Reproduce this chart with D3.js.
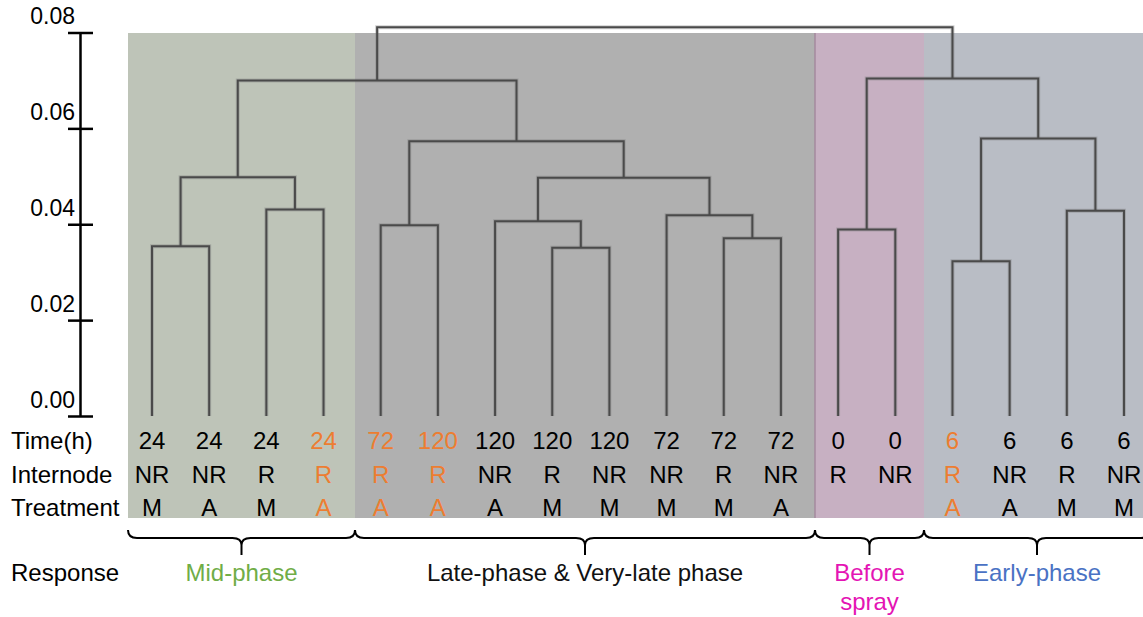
<!DOCTYPE html>
<meta charset="utf-8">
<style>
  body { margin: 0; background: #fff; }
  svg text { font-family: Arial, "Liberation Sans", sans-serif; font-size: 24px; }
</style>
<body>
<script src="https://cdn.jsdelivr.net/npm/d3@7/dist/d3.min.js"></script>
<script>
var width = 1143, height = 617;

// sample labels, left to right
var times = ["24","24","24","24","72","120","120","120","120","72","72","72","0","0","6","6","6","6"];
var internodes = ["NR","NR","R","R","R","R","NR","R","NR","NR","R","NR","R","NR","R","NR","R","NR"];
var treatments = ["M","A","M","A","A","A","A","M","M","M","M","A","","","A","A","M","M"];
var highlighted = [3, 4, 5, 14];

// linkage rows: [left id, right id, height]; ids >= 18 refer to earlier rows
var merges = [
  [0, 1, 0.0354],
  [2, 3, 0.0431],
  [18, 19, 0.0498],
  [4, 5, 0.0398],
  [7, 8, 0.0351],
  [6, 22, 0.0406],
  [10, 11, 0.0371],
  [9, 24, 0.0419],
  [23, 25, 0.0497],
  [21, 26, 0.0573],
  [20, 27, 0.0700],
  [12, 13, 0.0389],
  [14, 15, 0.0323],
  [16, 17, 0.0428],
  [30, 31, 0.0579],
  [29, 32, 0.0704],
  [28, 33, 0.0811]
];

var groupNames = ["Mid-phase", "Late-phase & Very-late phase", "Before spray", "Early-phase"];
var groupFirst = [0, 4, 12, 14];
var groupLast = [3, 11, 13, 17];
var yTicks = [0, 0.02, 0.04, 0.06, 0.08];

var bgColors = ["#bec4b8", "#b0b0b0", "#c7b0c2", "#b9bdc5"];
var labelColors = ["#70ad47", "#111", "#e414b4", "#4a72c4"];
var orange = "#ed7d31";
var edgeShift = [0, 2.5, 5.5, 0.5];

var svg = d3.select("body").append("svg")
    .attr("width", width)
    .attr("height", height);

var x = d3.scalePoint()
    .domain(d3.range(times.length))
    .range([152, 1124]);

var y = d3.scaleLinear()
    .domain([0, 0.08])
    .range([416, 32.5]);

// region edges
var left = groupFirst.map(function(f, g) {
    return Math.round(g == 0 ? x(f) - 24 : (x(groupLast[g - 1]) + x(f)) / 2 + edgeShift[g]);
});
var edges = left.map(function(x0, g) {
    return [x0, g == left.length - 1 ? width + 7 : left[g + 1]];
});

svg.append("g").attr("shape-rendering", "crispEdges").selectAll("rect")
    .data(edges)
    .enter().append("rect")
    .attr("x", function(d) { return d[0]; })
    .attr("y", 33)
    .attr("width", function(d) { return d[1] - d[0]; })
    .attr("height", 518 - 33)
    .attr("fill", function(d, i) { return bgColors[i]; });

svg.append("line")
    .attr("x1", edges[2][0]).attr("x2", edges[2][0])
    .attr("y1", 33).attr("y2", 518)
    .attr("stroke", "#a48a9e").attr("stroke-width", 1.5);

// build the tree
var n = times.length;
var nodes = d3.range(n).map(function(i) { return { id: i, h: 0 }; });
merges.forEach(function(m, k) {
    nodes.push({ id: n + k, h: m[2], children: [nodes[m[0]], nodes[m[1]]] });
});
var root = d3.hierarchy(nodes[nodes.length - 1]);
root.eachAfter(function(d) {
    d.x = d.children ? d3.mean(d.children, function(c) { return c.x; }) : x(d.data.id);
});

var elbow = function(d) {
    var a = d.children[0], b = d.children[1];
    return "M" + a.x + "," + y(a.data.h) + "V" + y(d.data.h) + "H" + b.x + "V" + y(b.data.h);
};
var inner = root.descendants().filter(function(d) { return d.children; });

var tree = svg.append("g").attr("fill", "none");
tree.selectAll("path.shadow")
    .data(inner)
    .enter().append("path")
    .attr("class", "shadow")
    .attr("d", elbow)
    .attr("stroke", "#777")
    .attr("stroke-opacity", 0.35)
    .attr("stroke-width", 4);
tree.selectAll("path.link")
    .data(inner)
    .enter().append("path")
    .attr("class", "link")
    .attr("d", elbow)
    .attr("stroke", "#4a4a4a")
    .attr("stroke-width", 2);

// axis
var axis = svg.append("g")
    .attr("transform", "translate(80,0)")
    .call(d3.axisLeft(y).tickValues(yTicks).tickFormat(d3.format(".2f")).tickSize(12).tickSizeOuter(0));
axis.select(".domain").attr("stroke", "#000").attr("stroke-width", 2.5);
axis.selectAll(".tick line").attr("x1", 13).attr("x2", -12).attr("stroke", "#000").attr("stroke-width", 2.5);
axis.selectAll(".tick text")
    .attr("x", -5)
    .attr("dy", "-9px")
    .attr("fill", "#000")
    .style("font-size", "23px")
    .style("font-family", "Arial, 'Liberation Sans', sans-serif");

// label rows
var rows = [["Time(h)", times, 449], ["Internode", internodes, 483], ["Treatment", treatments, 516]];
rows.forEach(function(r) {
    svg.append("text").attr("x", 11).attr("y", r[2]).attr("fill", "#000").text(r[0]);
    svg.append("g").selectAll("text")
        .data(r[1])
        .enter().append("text")
        .attr("x", function(d, i) { return x(i); })
        .attr("y", r[2])
        .attr("text-anchor", "middle")
        .attr("fill", function(d, i) { return highlighted.indexOf(i) >= 0 ? orange : "#000"; })
        .text(function(d) { return d; });
});

// braces
var brace = function(d) {
    var x0 = d[0], x1 = d[1], xm = (x0 + x1) / 2, top = 530, mid = 538, tip = 555, r = 9;
    return "M" + x0 + "," + top + "Q" + x0 + "," + mid + " " + (x0 + r) + "," + mid +
        "H" + (xm - r) + "Q" + xm + "," + mid + " " + xm + "," + (mid + 7) + "V" + tip +
        "M" + xm + "," + (mid + 7) + "Q" + xm + "," + mid + " " + (xm + r) + "," + mid +
        "H" + (x1 - r) + "Q" + x1 + "," + mid + " " + x1 + "," + top;
};
svg.append("g").selectAll("path")
    .data(edges)
    .enter().append("path")
    .attr("d", brace)
    .attr("fill", "none")
    .attr("stroke", "#000")
    .attr("stroke-width", 2);

svg.append("text").attr("x", 11).attr("y", 581).attr("fill", "#000").text("Response");

svg.append("g").selectAll("text")
    .data(groupNames)
    .enter().append("text")
    .attr("x", function(d, i) { return (edges[i][0] + edges[i][1]) / 2; })
    .attr("y", 581)
    .attr("text-anchor", "middle")
    .attr("fill", function(d, i) { return labelColors[i]; })
    .each(function(d) {
        var t = d3.select(this);
        var words = d == "Before spray" ? d.split(" ") : [d];
        words.forEach(function(w, k) {
            t.append("tspan")
                .attr("x", t.attr("x"))
                .attr("dy", k == 0 ? 0 : 29)
                .text(w);
        });
    });
</script>
